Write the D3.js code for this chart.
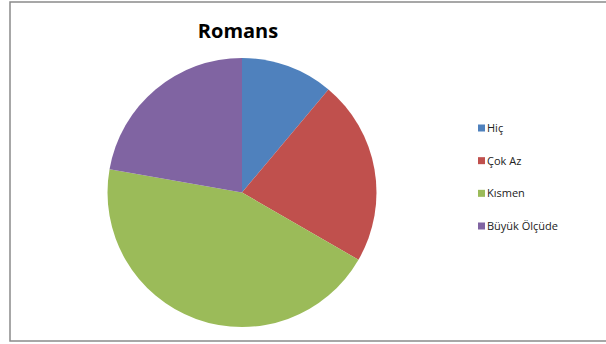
<!DOCTYPE html>
<html>
<head>
<meta charset="utf-8">
<script src="https://cdn.jsdelivr.net/npm/d3@7"></script>
<style>
  body { margin: 0; background: #fff; }
  text { font-family: "Open Sans", "Liberation Sans", sans-serif; }
</style>
</head>
<body>
<div id="chart"></div>
<script>
const width = 606;
const height = 344;

// Chart data
const categories = ["Hiç", "Çok Az", "Kısmen", "Büyük Ölçüde"];
const values = [5, 10, 20, 10];
const colors = ["#4F81BD", "#C0504D", "#9BBB59", "#8064A2"];

let svg = d3.select("#chart").append("svg")
  .attr("width", width)
  .attr("height", height);

// Chart frame
svg.append("rect")
  .attr("x", 10)
  .attr("y", 2)
  .attr("width", 620)
  .attr("height", 339)
  .attr("fill", "#fff")
  .attr("stroke", "#8a8a8a")
  .attr("stroke-width", 1.5);

svg.append("text")
  .attr("x", 238)
  .attr("y", 38)
  .attr("text-anchor", "middle")
  .attr("font-size", 20)
  .attr("font-weight", "bold")
  .text("Romans");

let pie = d3.pie().sort(null).value(d => d);
let arc = d3.arc().innerRadius(0).outerRadius(134.5);

let g = svg.append("g").attr("transform", "translate(242,192.5)");
g.selectAll("path")
  .data(pie(values))
  .enter().append("path")
  .attr("d", arc)
  .attr("fill", (d, i) => colors[i]);

// Legend
let y = d3.scalePoint().domain(categories).range([128, 226]);
let legend = svg.append("g").selectAll("g")
  .data(categories)
  .enter().append("g")
  .attr("transform", d => "translate(478," + y(d) + ")");
legend.append("rect")
  .attr("x", 0).attr("y", -3.5)
  .attr("width", 7).attr("height", 7)
  .attr("fill", (d, i) => colors[i]);
legend.append("text")
  .attr("x", 9)
  .attr("y", 4)
  .attr("font-size", 11)
  .attr("fill", "#222")
  .text(d => d);
</script>
</body>
</html>
